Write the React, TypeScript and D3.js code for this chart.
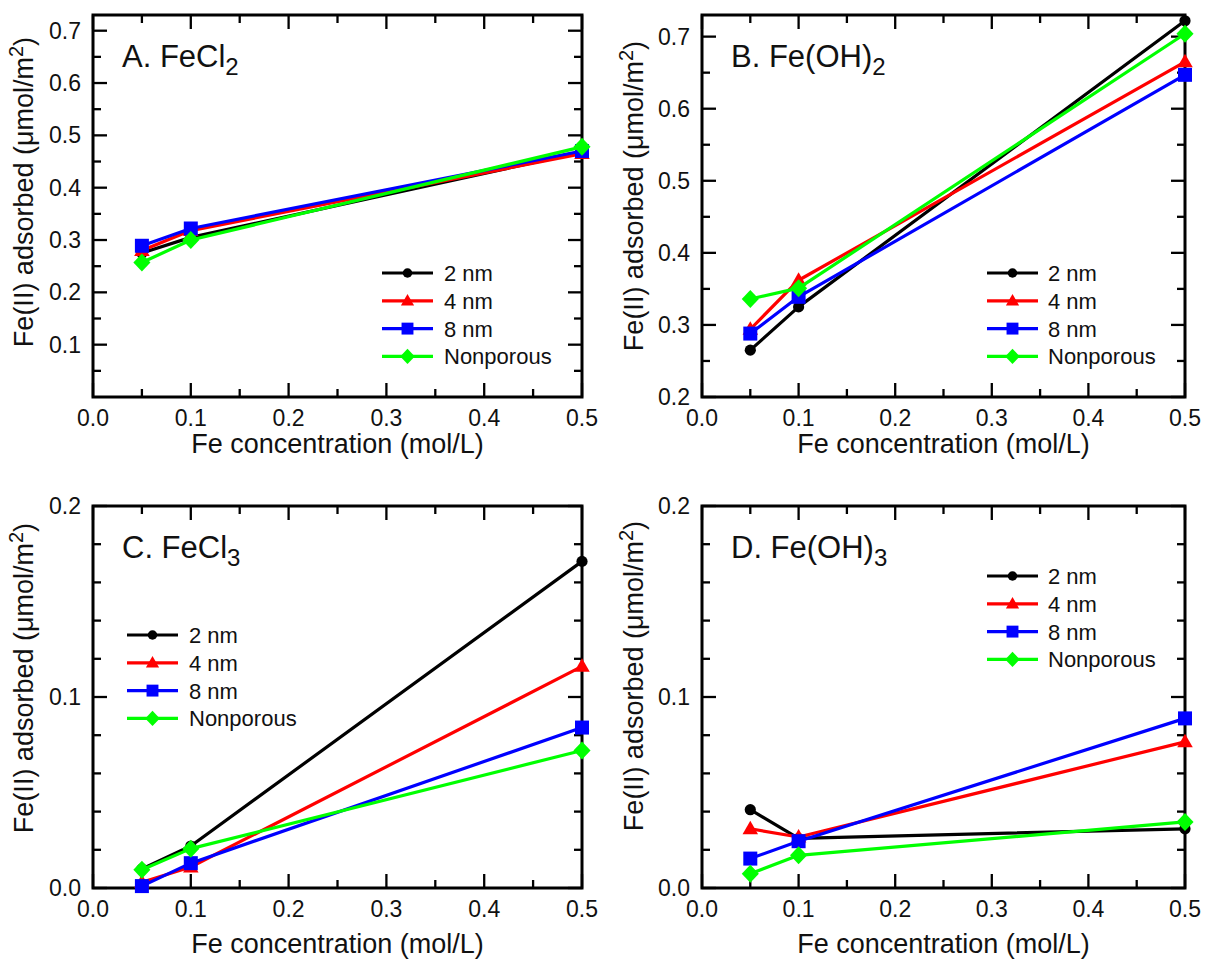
import React from "react";
import * as d3 from "d3";

// ---------- data ----------
const X_VALUES = [0.05, 0.1, 0.5];
const SERIES_NAMES = ["2 nm", "4 nm", "8 nm", "Nonporous"];
const SERIES_COLORS = ["#000000", "#ff0000", "#0000ff", "#00ff00"];
const SERIES_SHAPES = ["circle", "triangle", "square", "diamond"];

const A_FECL2 = [
  [0.275, 0.305, 0.468],
  [0.28, 0.318, 0.465],
  [0.289, 0.322, 0.47],
  [0.257, 0.3, 0.478],
];
const B_FEOH2 = [
  [0.265, 0.325, 0.722],
  [0.294, 0.362, 0.665],
  [0.288, 0.339, 0.647],
  [0.336, 0.351, 0.704],
];
const C_FECL3 = [
  [0.01, 0.022, 0.171],
  [0.003, 0.011, 0.116],
  [0.001, 0.013, 0.084],
  [0.0096, 0.0206, 0.072],
];
const D_FEOH3 = [
  [0.041, 0.026, 0.031],
  [0.031, 0.0267, 0.0765],
  [0.0154, 0.0245, 0.0888],
  [0.0075, 0.0171, 0.0346],
];

const X_TICKS = [0, 0.1, 0.2, 0.3, 0.4, 0.5];
const X_MINOR = [0.05, 0.15, 0.25, 0.35, 0.45];
const Y_TICKS_A = [0.1, 0.2, 0.3, 0.4, 0.5, 0.6, 0.7];
const Y_MINOR_A = [0.05, 0.15, 0.25, 0.35, 0.45, 0.55, 0.65];
const Y_TICKS_B = [0.2, 0.3, 0.4, 0.5, 0.6, 0.7];
const Y_MINOR_B = [0.25, 0.35, 0.45, 0.55, 0.65];
const Y_TICKS_CD = [0, 0.1, 0.2];
const Y_MINOR_CD = [0.02, 0.04, 0.06, 0.08, 0.12, 0.14, 0.16, 0.18];

const X_TITLE = "Fe concentration (mol/L)";

const FONT = "Arial, 'Liberation Sans', Helvetica, sans-serif";

type Panel = {
  key: string;
  label: string;
  sub: string;
  data: number[][];
  left: number;
  right: number;
  top: number;
  bottom: number;
  yDomain: [number, number];
  yTicks: number[];
  yMinor: number[];
  legend: { x1: number; x2: number; tx: number; y0: number };
  yTitleX: number;
  yTitleY: number;
  xTitleY: number;
};

const fmt1 = d3.format(".1f");

const PANELS: Panel[] = [
  {
    key: "A", label: "A. FeCl", sub: "2", data: A_FECL2,
    left: 93, right: 582, top: 15, bottom: 397, yDomain: [0, 0.73],
    yTicks: Y_TICKS_A, yMinor: Y_MINOR_A,
    legend: { x1: 382, x2: 433, tx: 444, y0: 273 },
    yTitleX: 33, yTitleY: 192, xTitleY: 453,
  },
  {
    key: "B", label: "B. Fe(OH)", sub: "2", data: B_FEOH2,
    left: 702, right: 1185, top: 15, bottom: 397, yDomain: [0.2, 0.73],
    yTicks: Y_TICKS_B, yMinor: Y_MINOR_B,
    legend: { x1: 987, x2: 1038, tx: 1048, y0: 273 },
    yTitleX: 643, yTitleY: 196, xTitleY: 453,
  },
  {
    key: "C", label: "C. FeCl", sub: "3", data: C_FECL3,
    left: 93, right: 582, top: 506, bottom: 888, yDomain: [0, 0.2],
    yTicks: Y_TICKS_CD, yMinor: Y_MINOR_CD,
    legend: { x1: 127, x2: 178, tx: 189, y0: 635 },
    yTitleX: 33, yTitleY: 678, xTitleY: 953,
  },
  {
    key: "D", label: "D. Fe(OH)", sub: "3", data: D_FEOH3,
    left: 702, right: 1185, top: 506, bottom: 888, yDomain: [0, 0.2],
    yTicks: Y_TICKS_CD, yMinor: Y_MINOR_CD,
    legend: { x1: 987, x2: 1038, tx: 1048, y0: 576 },
    yTitleX: 643, yTitleY: 676, xTitleY: 953,
  },
];

function Marker({ shape, x, y, color, s = 1 }: { shape: string; x: number; y: number; color: string; s?: number }) {
  if (shape === "circle") return <circle cx={x} cy={y} r={5.6 * s} fill={color} />;
  if (shape === "triangle") {
    const h = 13.5 * s, w = 15.5 * s;
    return <path d={`M${x},${y - h * 0.6}L${x + w / 2},${y + h * 0.4}L${x - w / 2},${y + h * 0.4}Z`} fill={color} />;
  }
  if (shape === "square") {
    const a = 14 * s;
    return <rect x={x - a / 2} y={y - a / 2} width={a} height={a} fill={color} />;
  }
  const r = 9 * s;
  return <path d={`M${x},${y - r}L${x + r * 0.95},${y}L${x},${y + r}L${x - r * 0.95},${y}Z`} fill={color} />;
}

function PanelView({ p }: { p: Panel }) {
  const x = d3.scaleLinear().domain([0, 0.5]).range([p.left, p.right]);
  const y = d3.scaleLinear().domain(p.yDomain).range([p.bottom, p.top]);
  const line = d3.line<[number, number]>().x((d) => x(d[0])).y((d) => y(d[1]));
  const MAJ = 14, MIN = 8;
  const tickStroke = 2.3;
  return (
    <g>
      {X_TICKS.map((t) => (
        <g key={"xt" + t}>
          <line x1={x(t)} x2={x(t)} y1={p.bottom} y2={p.bottom - MAJ} stroke="#000" strokeWidth={tickStroke} />
          <line x1={x(t)} x2={x(t)} y1={p.top} y2={p.top + MAJ} stroke="#000" strokeWidth={tickStroke} />
          <text x={x(t)} y={p.bottom + 29} textAnchor="middle" fontSize={23} fontFamily={FONT} fill="#111">{fmt1(t)}</text>
        </g>
      ))}
      {X_MINOR.map((t) => (
        <g key={"xm" + t}>
          <line x1={x(t)} x2={x(t)} y1={p.bottom} y2={p.bottom - MIN} stroke="#000" strokeWidth={tickStroke} />
          <line x1={x(t)} x2={x(t)} y1={p.top} y2={p.top + MIN} stroke="#000" strokeWidth={tickStroke} />
        </g>
      ))}
      {p.yTicks.map((t) => (
        <g key={"yt" + t}>
          <line x1={p.left} x2={p.left + MAJ} y1={y(t)} y2={y(t)} stroke="#000" strokeWidth={tickStroke} />
          <line x1={p.right} x2={p.right - MAJ} y1={y(t)} y2={y(t)} stroke="#000" strokeWidth={tickStroke} />
          <text x={p.left - 12} y={y(t) + 8} textAnchor="end" fontSize={23} fontFamily={FONT} fill="#111">{fmt1(t)}</text>
        </g>
      ))}
      {p.yMinor.map((t) => (
        <g key={"ym" + t}>
          <line x1={p.left} x2={p.left + MIN} y1={y(t)} y2={y(t)} stroke="#000" strokeWidth={tickStroke} />
          <line x1={p.right} x2={p.right - MIN} y1={y(t)} y2={y(t)} stroke="#000" strokeWidth={tickStroke} />
        </g>
      ))}
      <rect x={p.left} y={p.top} width={p.right - p.left} height={p.bottom - p.top} fill="none" stroke="#000" strokeWidth={3} />
      {p.data.map((vals, i) => {
        const pts: [number, number][] = X_VALUES.map((xv, j) => [xv, vals[j]]);
        return (
          <g key={"s" + i}>
            <path d={line(pts) || ""} fill="none" stroke={SERIES_COLORS[i]} strokeWidth={3.2} strokeLinejoin="round" />
            {pts.map((d, j) => (
              <Marker key={j} shape={SERIES_SHAPES[i]} x={x(d[0])} y={y(d[1])} color={SERIES_COLORS[i]} />
            ))}
          </g>
        );
      })}
      {SERIES_NAMES.map((n, i) => {
        const ly = p.legend.y0 + i * 27.8;
        return (
          <g key={"l" + i}>
            <line x1={p.legend.x1} x2={p.legend.x2} y1={ly} y2={ly} stroke={SERIES_COLORS[i]} strokeWidth={3.2} />
            <Marker shape={SERIES_SHAPES[i]} x={(p.legend.x1 + p.legend.x2) / 2} y={ly} color={SERIES_COLORS[i]} s={0.85} />
            <text x={p.legend.tx} y={ly + 8} fontSize={22} fontFamily={FONT} fill="#111">{n}</text>
          </g>
        );
      })}
      <text x={p.left + 29} y={p.top + 52} fontSize={31} fontFamily={FONT} fill="#111">
        {p.label}
        <tspan dy={8} fontSize={24}>{p.sub}</tspan>
      </text>
      <text x={(p.left + p.right) / 2} y={p.xTitleY} textAnchor="middle" fontSize={27} fontFamily={FONT} fill="#111">{X_TITLE}</text>
      <text transform={`translate(${p.yTitleX},${p.yTitleY}) rotate(-90)`} textAnchor="middle" fontSize={27} fontFamily={FONT} fill="#111">
        Fe(II) adsorbed (μmol/m<tspan dy={-10} fontSize={20}>2</tspan><tspan dy={10}>)</tspan>
      </text>
    </g>
  );
}

export default function App() {
  return (
    <svg width={1215} height={964} viewBox="0 0 1215 964" style={{ position: "absolute", left: 0, top: 0, background: "#fff" }}>
      <rect x={0} y={0} width={1215} height={964} fill="#fff" />
      {PANELS.map((p) => (
        <PanelView key={p.key} p={p} />
      ))}
    </svg>
  );
}
